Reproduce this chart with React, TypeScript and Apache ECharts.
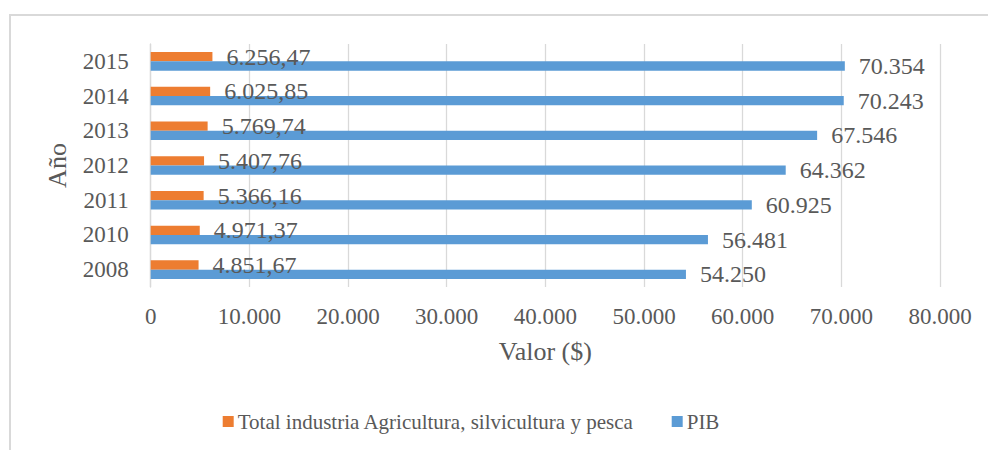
import React, { useEffect, useRef } from "react";
import * as echarts from "echarts";

const years = ["2008", "2010", "2011", "2012", "2013", "2014", "2015"];
const agriculture = [4851.67, 4971.37, 5366.16, 5407.76, 5769.74, 6025.85, 6256.47];
const pib = [54250, 56481, 60925, 64362, 67546, 70243, 70354];
const xTicks = { min: 0, max: 80000, interval: 10000 };
const seriesNames = ["Total industria Agricultura, silvicultura y pesca", "PIB"];

const FONT = "Liberation Serif";
const TEXT = "#595959";
const GRID = "#d9d9d9";

function fmtThousands(v: number, decimals: number): string {
  const fixed = v.toFixed(decimals);
  const [intPart, dec] = fixed.split(".");
  const withDots = intPart.replace(/\B(?=(\d{3})+(?!\d))/g, ".");
  return dec ? withDots + "," + dec : withDots;
}

const legendBase = {
  top: 411,
  padding: 0,
  itemWidth: 11,
  itemHeight: 11,
  icon: "rect",
  textStyle: { fontFamily: FONT, fontSize: 21, color: TEXT, padding: [0, 0, 0, -1] },
};

export default function App() {
  const ref = useRef<HTMLDivElement>(null);
  useEffect(() => {
    if (!ref.current) return;
    const chart = echarts.init(ref.current, undefined, { renderer: "svg" });
    chart.setOption({
      animation: false,
      backgroundColor: "#ffffff",
      textStyle: { fontFamily: FONT, color: TEXT },
      graphic: [
        {
          type: "rect",
          shape: { x: 10, y: 15, width: 1100, height: 600 },
          style: { fill: "none", stroke: GRID, lineWidth: 2 },
          silent: true,
        },
      ],
      legend: [
        { ...legendBase, left: 222.7, data: [seriesNames[0]] },
        { ...legendBase, left: 671.7, data: [seriesNames[1]] },
      ],
      grid: { left: 150.7, right: 48, top: 44, bottom: 163, containLabel: false },
      xAxis: {
        type: "value",
        min: xTicks.min,
        max: xTicks.max,
        interval: xTicks.interval,
        axisLine: { show: false },
        axisTick: { show: false },
        splitLine: { lineStyle: { color: GRID, width: 1.3 } },
        axisLabel: {
          fontFamily: FONT,
          fontSize: 23,
          color: TEXT,
          margin: 18,
          formatter: (v: number) => fmtThousands(v, 0),
        },
        name: "Valor ($)",
        nameLocation: "middle",
        nameGap: 51,
        nameTextStyle: { fontFamily: FONT, fontSize: 26, color: TEXT },
      },
      yAxis: {
        type: "category",
        data: years,
        axisLine: { show: true, lineStyle: { color: GRID, width: 1.3 } },
        axisTick: { show: false },
        axisLabel: { fontFamily: FONT, fontSize: 23, color: TEXT, margin: 22 },
        name: "Año",
        nameLocation: "middle",
        nameRotate: 90,
        nameGap: 80,
        nameTextStyle: { fontFamily: FONT, fontSize: 26, color: TEXT },
      },
      series: [
        {
          name: seriesNames[0],
          type: "bar",
          data: agriculture,
          barWidth: 9.3,
          barGap: "0%",
          itemStyle: { color: "#ED7D31" },
          label: {
            show: true,
            position: "right",
            distance: 14,
            fontFamily: FONT,
            fontSize: 24,
            color: TEXT,
            formatter: (p: any) => fmtThousands(p.value, 2),
          },
        },
        {
          name: seriesNames[1],
          type: "bar",
          data: pib,
          barWidth: 9.3,
          barGap: "0%",
          itemStyle: { color: "#5B9BD5" },
          label: {
            show: true,
            position: "right",
            distance: 14,
            fontFamily: FONT,
            fontSize: 24,
            color: TEXT,
            formatter: (p: any) => fmtThousands(p.value, 0),
          },
        },
      ],
    });
    return () => chart.dispose();
  }, []);
  return (
    <div
      ref={ref}
      style={{ position: "fixed", left: 0, top: 0, width: 988, height: 450 }}
    />
  );
}
